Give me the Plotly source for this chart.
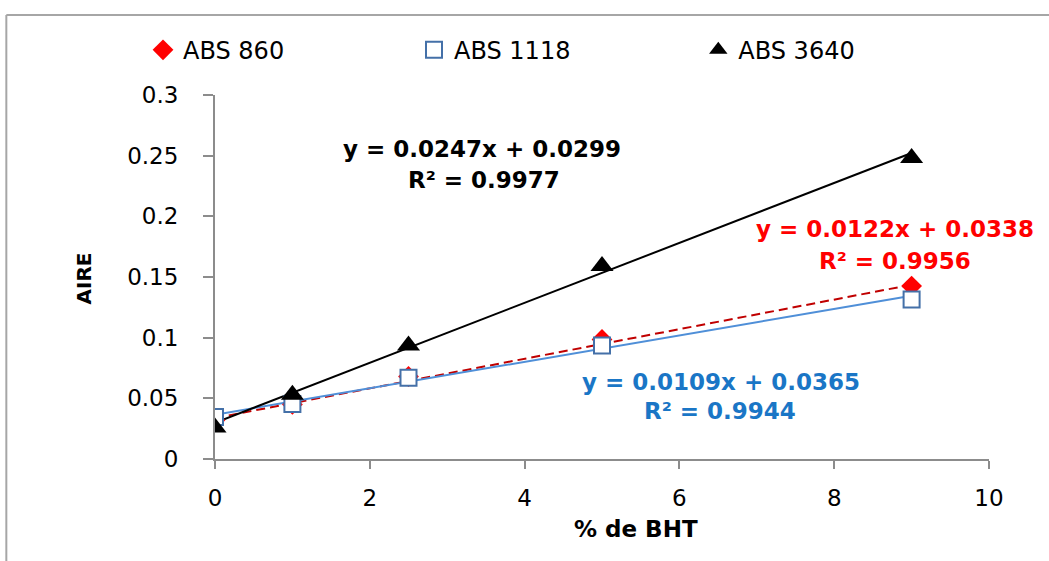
import plotly.graph_objects as go
import numpy as np

# ---- data ----
bht = [0, 1, 2.5, 5, 9]
abs_860 = [0.032, 0.045, 0.068, 0.0985, 0.1425]
abs_1118 = [0.0346, 0.0453, 0.067, 0.0936, 0.1315]
abs_3640 = [0.026, 0.053, 0.0936, 0.159, 0.248]

series_names = ["ABS 860", "ABS 1118", "ABS 3640"]
slopes = [0.0122, 0.0109, 0.0247]
intercepts = [0.0338, 0.0365, 0.0299]
r2_values = ["0.9956", "0.9944", "0.9977"]

y_tickvals = [0, 0.05, 0.1, 0.15, 0.2, 0.25, 0.3]
y_ticktext = ["0", "0.05", "0.1", "0.15", "0.2", "0.25", "0.3"]
x_tickvals = [0, 2, 4, 6, 8, 10]
x_ticktext = ["0", "2", "4", "6", "8", "10"]

FONT = "DejaVu Sans"
AXIS_GRAY = "#8c8c8c"

fig = go.Figure()

# trendlines
trend_styles = [
    dict(color="#C00000", width=2, dash="9px,5px"),
    dict(color="#4F8FD8", width=2),
    dict(color="#000000", width=2),
]
tx = np.array([min(bht), max(bht)])
for s, b, st in zip(slopes, intercepts, trend_styles):
    fig.add_trace(go.Scatter(x=tx, y=s * tx + b, mode="lines", line=st,
                             showlegend=False, hoverinfo="skip"))

# markers
fig.add_trace(go.Scatter(x=bht, y=abs_860, mode="markers", name=series_names[0],
                         legend="legend",
                         marker=dict(symbol="diamond", size=16, color="#FF0000",
                                     line=dict(width=0))))
fig.add_trace(go.Scatter(x=bht, y=abs_1118, mode="markers", name=series_names[1],
                         legend="legend",
                         marker=dict(symbol="square", size=16, color="white",
                                     line=dict(width=2, color="#4470A8"))))
fig.add_trace(go.Scatter(x=bht, y=abs_3640, mode="markers", name=series_names[2],
                         legend="legend2",
                         marker=dict(symbol="triangle-up", size=20, color="#000000",
                                     line=dict(width=0))))

# equations
eq_colors = ["#FF0000", "#1A76C6", "#000000"]
eq_pos = [((8.784, 0.1896), (8.784, 0.1632)),
          ((6.535, 0.0635), (6.52, 0.0396)),
          ((3.456, 0.2556), (3.47, 0.2300))]
for s, b, r2, c, (p1, p2) in zip(slopes, intercepts, r2_values, eq_colors, eq_pos):
    fig.add_annotation(x=p1[0], y=p1[1], xref="x", yref="y", showarrow=False,
                       text=f"<b>y = {s:.4f}x + {b:.4f}</b>",
                       font=dict(family=FONT, size=23, color=c),
                       xanchor="center", yanchor="middle")
    fig.add_annotation(x=p2[0], y=p2[1], xref="x", yref="y", showarrow=False,
                       text=f"<b>R² = {r2}</b>",
                       font=dict(family=FONT, size=23, color=c),
                       xanchor="center", yanchor="middle")

# axis titles
fig.add_annotation(x=-0.1687, y=0.497, xref="paper", yref="paper", showarrow=False,
                   text="<b>AIRE</b>", textangle=-90,
                   font=dict(family=FONT, size=20, color="#000"),
                   xanchor="center", yanchor="middle")
fig.add_annotation(x=0.544, y=-0.192, xref="paper", yref="paper", showarrow=False,
                   text="<b>% de BHT</b>",
                   font=dict(family=FONT, size=23, color="#000"),
                   xanchor="center", yanchor="middle")

# chart border (left & top visible)
fig.add_shape(type="line", xref="paper", yref="paper", x0=-0.2696, x1=-0.2696,
              y0=-0.35, y1=1.2198, line=dict(color="#a6a6a6", width=2))
fig.add_shape(type="line", xref="paper", yref="paper", x0=-0.2696, x1=1.15,
              y0=1.2198, y1=1.2198, line=dict(color="#a6a6a6", width=2))

legend_common = dict(orientation="h", yanchor="middle", xanchor="left", y=1.123,
                     font=dict(family=FONT, size=24, color="#000"),
                     entrywidth=226, entrywidthmode="pixels",
                     bgcolor="rgba(0,0,0,0)")

fig.update_layout(
    width=1049, height=561,
    margin=dict(l=215, r=60, t=95, b=102),
    paper_bgcolor="white", plot_bgcolor="white",
    font=dict(family=FONT, color="#000"),
    showlegend=True,
    legend=dict(x=-0.093, **legend_common),
    legend2=dict(x=0.6244, **legend_common),
    xaxis=dict(range=[0, 10], tickvals=x_tickvals, ticktext=x_ticktext,
               showgrid=False, zeroline=False, showline=True, linecolor=AXIS_GRAY,
               linewidth=2, ticks="outside", ticklen=8, tickwidth=2, tickcolor=AXIS_GRAY,
               tickfont=dict(family=FONT, size=23, color="#000"),
               ticklabelstandoff=9),
    yaxis=dict(range=[0, 0.3], tickvals=y_tickvals, ticktext=y_ticktext,
               showgrid=False, zeroline=False, showline=True, linecolor=AXIS_GRAY,
               linewidth=2, ticks="outside", ticklen=10, tickwidth=2, tickcolor=AXIS_GRAY,
               tickfont=dict(family=FONT, size=23, color="#000"),
               ticklabelstandoff=20),
)

fig.write_html("out.html")
